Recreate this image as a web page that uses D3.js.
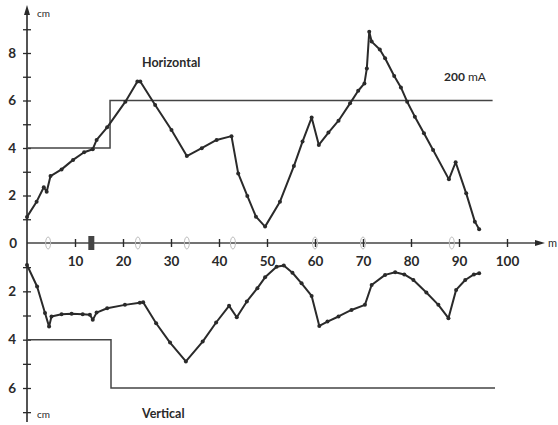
<!DOCTYPE html>
<html><head><meta charset="utf-8">
<script src="https://cdn.jsdelivr.net/npm/d3@7"></script>
<style>
html,body{margin:0;padding:0;background:#fff;}
svg{display:block;}
text{font-family:Lato,"DejaVu Sans",sans-serif;fill:#2a2a2a;}
</style></head>
<body><svg id="c" width="558" height="425"></svg>
<script>
// Horizontal displacement (cm) vs distance (m)
const hDist  = [0,2,3.5,4.1,4.9,7.2,9.6,11.9,13.7,14.5,16.7,20.5,23,23.6,26.7,30.1,33.3,36.4,39.5,42.6,44.0,45.9,47.7,49.6,52.7,55.6,57.4,59.3,60.8,62.8,64.9,67.3,69.0,70.3,70.8,71.3,71.8,73.5,74.6,76.5,77.9,79.2,80.8,82.7,84.6,87.9,89.3,91.5,93.3,94.2];
const hValue = [1.1,1.74,2.35,2.16,2.82,3.1,3.5,3.82,3.95,4.34,4.87,5.95,6.8,6.8,5.81,4.76,3.66,3.99,4.34,4.5,2.93,1.98,1.11,0.69,1.74,3.24,4.27,5.28,4.13,4.65,5.15,5.88,6.41,6.72,7.35,8.9,8.48,8.15,7.78,7.03,6.55,5.95,5.32,4.62,3.92,2.68,3.4,2.09,0.9,0.58];
// Vertical displacement (cm, drawn downward)
const vDist  = [0,2.1,3.75,4.6,5.1,7.2,9.3,11.6,13.1,13.7,14.5,16.7,20.4,23.5,24.2,26.9,29.8,33.1,36.6,39.4,42.1,43.7,45.8,48,49.6,52,53.5,55.3,57.2,59.3,60.9,62.6,64.9,67.6,70.4,71.8,74.6,76.7,78.6,80.5,83.2,85.7,87.8,89.4,91.3,93.1,94.2];
const vValue = [0.91,1.8,2.9,3.46,3.04,2.95,2.93,2.95,2.97,3.18,2.88,2.7,2.56,2.47,2.45,3.32,4.12,4.9,4.08,3.29,2.6,3.07,2.42,1.87,1.42,0.98,0.93,1.23,1.67,2.19,3.43,3.25,3.04,2.77,2.56,1.74,1.32,1.21,1.3,1.53,2.05,2.56,3.11,1.94,1.53,1.3,1.25];
// Step references
const hStepDist = [0,17.3,97];
const hStepValue = [4,6,6];
const vStepDist = [0,17.5,97.5];
const vStepValue = [4,6,6];
// station marks on the distance axis
const stationDist = [4.4,23.1,33.3,42.9,60,70,88.5];
const blockDist = [13.4];
// ticks
const xTicks = [10,20,30,40,50,60,70,80,90,100];
const upTicks = [1,2,3,4,5,6,7,8,9];
const downTicks = [1,2,3,4,5,6,7];
const upLabels = [2,4,6,8];
const downLabels = [2,4,6];

const svg = d3.select("#c");
const ink = "#2a2a2a";
const x = d3.scaleLinear().domain([0,100]).range([27,507]);
const yUp = d3.scaleLinear().domain([0,8]).range([243,53]);
const yDown = d3.scaleLinear().domain([0,6]).range([243,388]);

// axes lines
svg.append("line").attr("x1",x(0)).attr("x2",538).attr("y1",yUp(0)).attr("y2",yUp(0)).attr("stroke","#444").attr("stroke-width",1.3);
svg.append("path").attr("d",`M545,${yUp(0)} L535,${yUp(0)-3} L535,${yUp(0)+3}Z`).attr("fill",ink);
svg.append("line").attr("x1",x(0)).attr("x2",x(0)).attr("y1",12).attr("y2",422).attr("stroke",ink).attr("stroke-width",1.6);
svg.append("path").attr("d",`M${x(0)},5 L${x(0)-3},15 L${x(0)+3},15Z`).attr("fill",ink);

// station marks
svg.selectAll("ellipse.st").data(stationDist).join("ellipse").attr("class","st")
  .attr("cx",d=>x(d)).attr("cy",yUp(0)).attr("rx",2.5).attr("ry",6)
  .attr("fill","none").attr("stroke","#bbb").attr("stroke-width",1);
svg.selectAll("rect.bl").data(blockDist).join("rect").attr("class","bl")
  .attr("x",d=>x(d)-3).attr("y",yUp(0)-7).attr("width",6).attr("height",14).attr("fill","#444");

const fontF = "Lato,'DejaVu Sans',sans-serif";
// x axis ticks and labels
const xa = svg.append("g").attr("transform",`translate(0,${yUp(0)})`)
  .call(d3.axisBottom(x).tickValues(xTicks).tickSize(4).tickPadding(9));
xa.select(".domain").remove();
xa.selectAll(".tick line").attr("y1",-4).attr("y2",4).attr("stroke",ink).attr("stroke-width",1.4);
xa.selectAll(".tick text").attr("font-size",13.5).attr("font-weight","bold").attr("font-family",fontF).attr("fill","#2a2a2a");

// y axis upper
const ya = svg.append("g").attr("transform",`translate(${x(0)},0)`)
  .call(d3.axisLeft(yUp).tickValues(upTicks).tickSize(4).tickPadding(7).tickFormat(d=>upLabels.includes(d)?d:""));
ya.select(".domain").remove();
ya.selectAll(".tick line").attr("x1",-4).attr("x2",4).attr("stroke",ink).attr("stroke-width",1.3);
ya.selectAll(".tick text").attr("font-size",13.5).attr("font-weight","bold").attr("font-family",fontF).attr("fill","#2a2a2a");
// y axis lower
const yb = svg.append("g").attr("transform",`translate(${x(0)},0)`)
  .call(d3.axisLeft(yDown).tickValues(downTicks).tickSize(4).tickPadding(7).tickFormat(d=>downLabels.includes(d)?d:""));
yb.select(".domain").remove();
yb.selectAll(".tick line").attr("x1",-4).attr("x2",4).attr("stroke",ink).attr("stroke-width",1.3);
yb.selectAll(".tick text").attr("font-size",13.5).attr("font-weight","bold").attr("font-family",fontF).attr("fill","#2a2a2a");
// zero label
svg.append("text").attr("x",x(0)-10).attr("y",yUp(0)).attr("dy","0.35em").attr("text-anchor","end")
  .attr("font-size",13.5).attr("font-weight","bold").text("0");

// units
svg.append("text").attr("x",37).attr("y",17).attr("font-size",10).text("cm");
svg.append("text").attr("x",37).attr("y",418).attr("font-size",10).text("cm");
svg.append("text").attr("x",548).attr("y",yUp(0)+4).attr("font-size",11).text("m");

// step lines
const stepUp = d3.line().x((d,i)=>x(hStepDist[i])).y((d,i)=>yUp(hStepValue[i])).curve(d3.curveStepAfter);
svg.append("path").attr("d",stepUp(hStepDist)).attr("fill","none").attr("stroke","#444").attr("stroke-width",1.5);
const stepDown = d3.line().x((d,i)=>x(vStepDist[i])).y((d,i)=>yDown(vStepValue[i])).curve(d3.curveStepAfter);
svg.append("path").attr("d",stepDown(vStepDist)).attr("fill","none").attr("stroke","#444").attr("stroke-width",1.5);

// curves
const hLine = d3.line().x((d,i)=>x(hDist[i])).y((d,i)=>yUp(hValue[i]));
svg.append("path").attr("d",hLine(hDist)).attr("fill","none").attr("stroke",ink).attr("stroke-width",2).attr("stroke-linejoin","round");
svg.selectAll("circle.h").data(hDist).join("circle").attr("class","h")
  .attr("cx",d=>x(d)).attr("cy",(d,i)=>yUp(hValue[i])).attr("r",2).attr("fill",ink);
const vLine = d3.line().x((d,i)=>x(vDist[i])).y((d,i)=>yDown(vValue[i]));
svg.append("path").attr("d",vLine(vDist)).attr("fill","none").attr("stroke",ink).attr("stroke-width",2).attr("stroke-linejoin","round");
svg.selectAll("circle.v").data(vDist).join("circle").attr("class","v")
  .attr("cx",d=>x(d)).attr("cy",(d,i)=>yDown(vValue[i])).attr("r",2).attr("fill",ink);

// titles
svg.append("text").attr("x",142).attr("y",67).attr("font-size",12.5).attr("font-weight","bold").text("Horizontal");
svg.append("text").attr("x",142).attr("y",418).attr("font-size",12.5).attr("font-weight","bold").text("Vertical");
const t = svg.append("text").attr("x",444).attr("y",81).attr("font-size",12);
t.append("tspan").attr("font-weight","bold").text("200");
t.append("tspan").attr("dx",3).text("mA");
</script></body></html>
